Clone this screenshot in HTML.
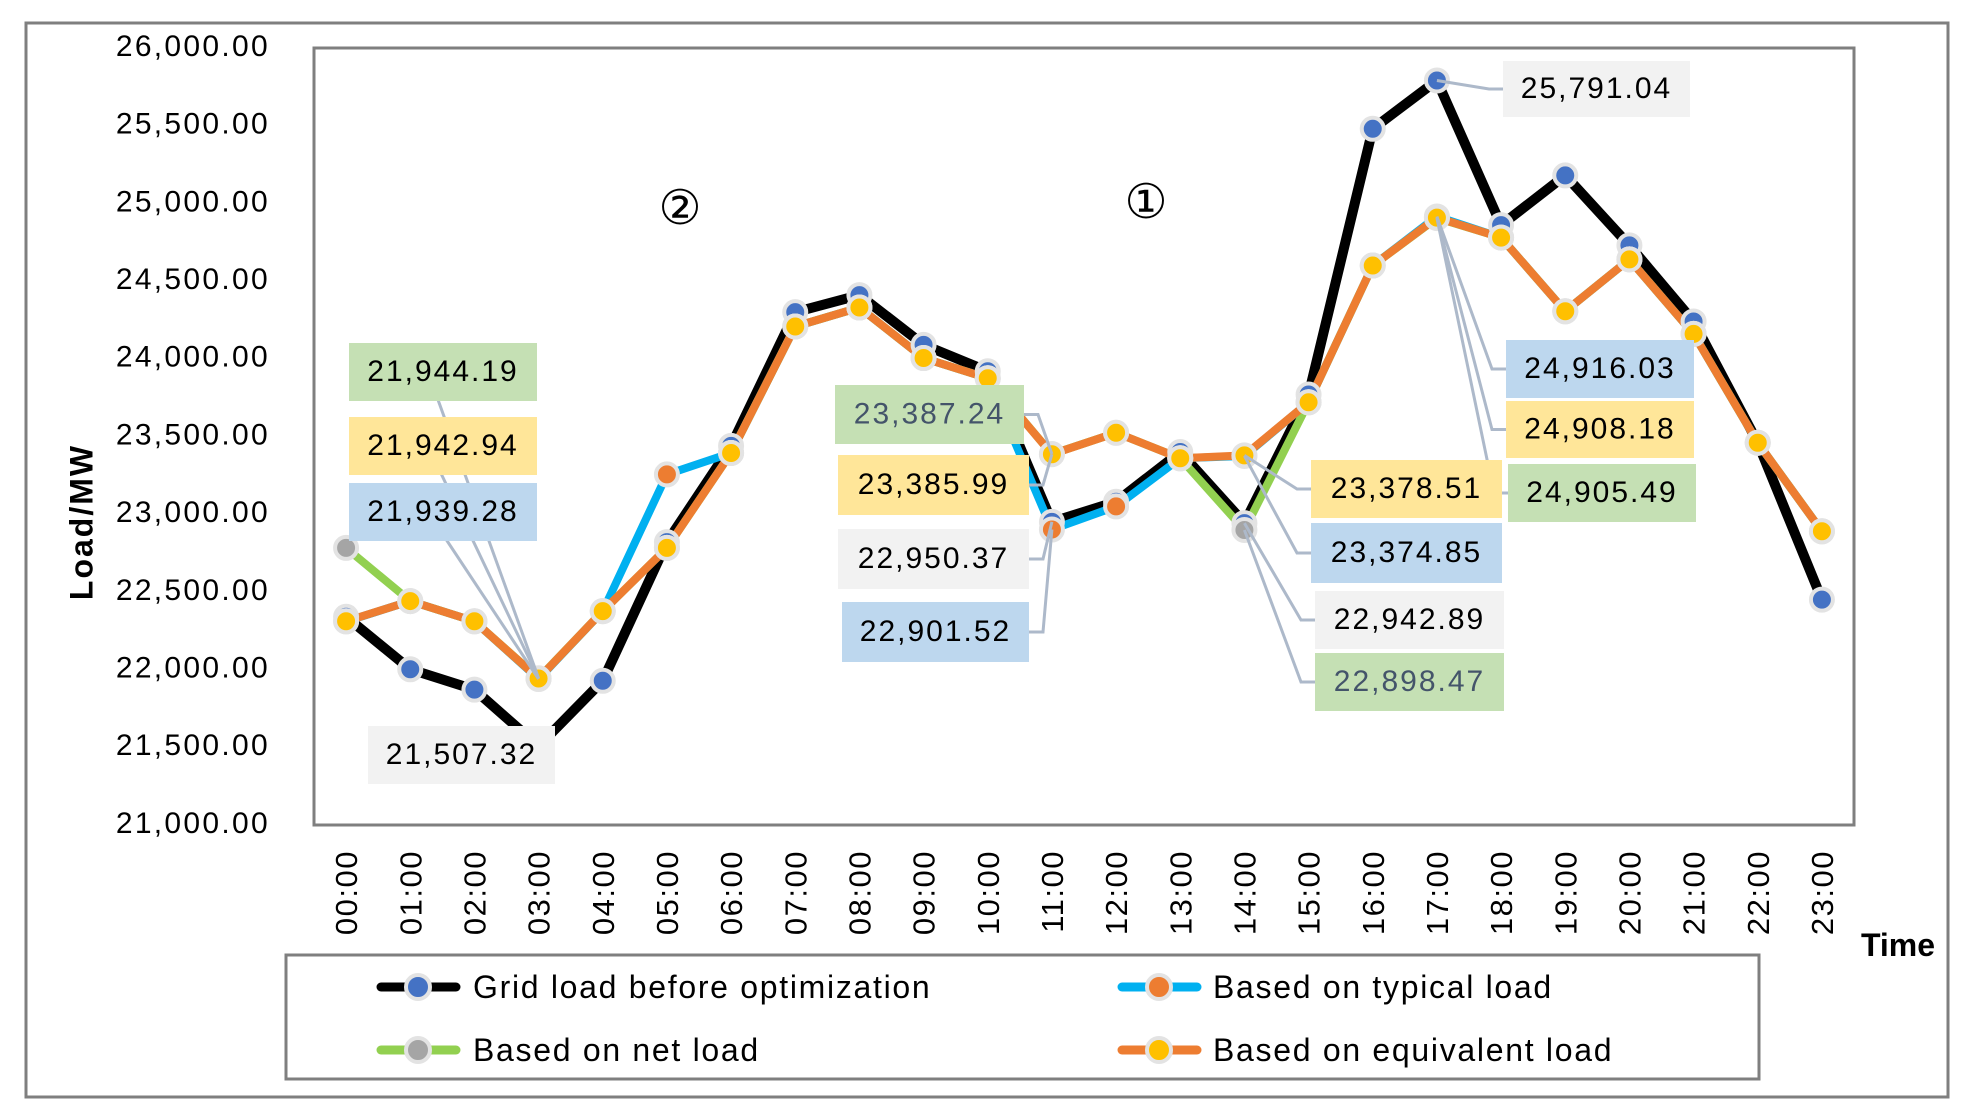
<!DOCTYPE html>
<html><head><meta charset="utf-8"><style>
html,body{margin:0;padding:0;background:#fff;}
svg{display:block;font-family:"Liberation Sans","DejaVu Sans",sans-serif;}
</style></head><body>
<svg id="chart" width="1982" height="1118" viewBox="0 0 1982 1118">
<rect x="26" y="23" width="1922" height="1074" fill="#fff" stroke="#7f7f7f" stroke-width="3"/>
<rect x="314" y="48" width="1540" height="777" fill="#fff" stroke="#7f7f7f" stroke-width="3"/>
<g id="yticks"></g>
<g id="xticks"></g>
<text x="84" y="522" transform="rotate(-90 84 522)" text-anchor="middle" dominant-baseline="middle" font-size="32" font-weight="bold" letter-spacing="2">Load/MW</text>
<text x="1898" y="956" text-anchor="middle" font-size="32" font-weight="bold">Time</text>
<text x="1146" y="218" text-anchor="middle" font-size="48" font-weight="normal">①</text>
<text x="680" y="224" text-anchor="middle" font-size="48">②</text>
<g id="series"></g>
<g id="labels"></g>
<g>
<rect x="286" y="955" width="1473" height="124" fill="#fff" stroke="#7f7f7f" stroke-width="3"/>
<g>
<line x1="381" y1="987" x2="456" y2="987" stroke="#000" stroke-width="9" stroke-linecap="round"/>
<circle cx="418" cy="987" r="12" fill="#4472C4" stroke="#e3e3e3" stroke-width="4"/>
<text x="473" y="998" font-size="32" letter-spacing="1.7">Grid load before optimization</text></g>
<g>
<line x1="1122" y1="987" x2="1197" y2="987" stroke="#00B0F0" stroke-width="9" stroke-linecap="round"/>
<circle cx="1159" cy="987" r="12" fill="#ED7D31" stroke="#e3e3e3" stroke-width="4"/>
<text x="1213" y="998" font-size="32" letter-spacing="1.7">Based on typical load</text></g>
<g>
<line x1="381" y1="1050" x2="456" y2="1050" stroke="#92D050" stroke-width="9" stroke-linecap="round"/>
<circle cx="418" cy="1050" r="12" fill="#A5A5A5" stroke="#e3e3e3" stroke-width="4"/>
<text x="473" y="1061" font-size="32" letter-spacing="1.7">Based on net load</text></g>
<g>
<line x1="1122" y1="1050" x2="1197" y2="1050" stroke="#ED7D31" stroke-width="9" stroke-linecap="round"/>
<circle cx="1159" cy="1050" r="12" fill="#FFC000" stroke="#e3e3e3" stroke-width="4"/>
<text x="1213" y="1061" font-size="32" letter-spacing="1.7">Based on equivalent load</text></g>
</g>
</svg>
<script>
const categories = ["00:00","01:00","02:00","03:00","04:00","05:00","06:00","07:00","08:00","09:00","10:00","11:00","12:00","13:00","14:00","15:00","16:00","17:00","18:00","19:00","20:00","21:00","22:00","23:00"];
const yTicks = [21000,21500,22000,22500,23000,23500,24000,24500,25000,25500,26000];
const gridLoad = [22340,22002,21871,21507.32,21928,22820,23440,24300,24410,24090,23920,22950.37,23080,23400,22942.89,23770,25480,25791.04,24860,25180,24730,24240,23460,22450];
const typicalLoad = [22310,22441,22311,21939.28,22376,23256,23394,24208,24330,24005,23875,22901.52,23050,23360,23374.85,23720,24600,24916.03,24780,24306,24640,24160,23460,22890];
const netLoad = [22783,22441,22311,21944.19,22376,22783,23394,24208,24330,24005,23875,23387.24,23524,23360,22898.47,23720,24600,24905.49,24780,24306,24640,24160,23460,22890];
const equivLoad = [22311,22441,22311,21942.94,22376,22783,23394,24208,24330,24005,23875,23385.99,23524,23360,23378.51,23720,24600,24908.18,24780,24306,24640,24160,23460,22890];

const NS="http://www.w3.org/2000/svg";
const PX=314, PW=1540, PY=48, PH=777, YMIN=21000, YMAX=26000;
function xPos(i){return PX+PW/categories.length*(i+0.5);}
function yPos(v){return PY+PH*(YMAX-v)/(YMAX-YMIN);}
function mk(tag,attrs,parent){const e=document.createElementNS(NS,tag);for(const k in attrs)e.setAttribute(k,attrs[k]);parent.appendChild(e);return e;}
const fmt=v=>v.toLocaleString("en-US",{minimumFractionDigits:2,maximumFractionDigits:2});

const yg=document.getElementById("yticks");
yTicks.forEach(t=>{const e=mk("text",{x:270,y:yPos(t),"text-anchor":"end","dominant-baseline":"middle","font-size":30,"letter-spacing":2.3},yg);e.textContent=fmt(t);

});
const xg=document.getElementById("xticks");
categories.forEach((c,i)=>{const x=xPos(i)+11,y=850;const e=mk("text",{x:x,y:y,transform:`rotate(-90 ${x} ${y})`,"text-anchor":"end","font-size":31,"letter-spacing":1.5},xg);e.textContent=c;

});

const sg=document.getElementById("series");
const series=[
 {name:"grid-load",data:gridLoad,line:"#000",w:10,dot:"#4472C4"},
 {name:"typical-load",data:typicalLoad,line:"#00B0F0",w:8,dot:"#ED7D31"},
 {name:"net-load",data:netLoad,line:"#92D050",w:8,dot:"#A5A5A5"},
 {name:"equivalent-load",data:equivLoad,line:"#ED7D31",w:8,dot:"#FFC000"}];
series.forEach(s=>{const p=mk("polyline",{points:s.data.map((v,i)=>xPos(i)+","+yPos(v)).join(" "),fill:"none",stroke:s.line,"stroke-width":s.w,"stroke-linejoin":"round"},sg);

});
series.forEach(s=>{s.data.forEach((v,i)=>{const c=mk("circle",{cx:xPos(i),cy:yPos(v),r:11,fill:s.dot,stroke:"#e3e3e3","stroke-width":4},sg);

});});

const lg=document.getElementById("labels");
// mode: 'c' = leader to box centre (behind box), 'e' = elbow to edge, 'n' = none
const boxes=[
 [netLoad,3,349,343,188,58,"#C5E0B4","#000","c"],
 [equivLoad,3,349,417,188,58,"#FFE699","#000","c"],
 [typicalLoad,3,349,483,188,58,"#BDD7EE","#000","c"],
 [gridLoad,3,368,726,187,58,"#F2F2F2","#000","n"],
 [netLoad,11,835,385,189,59,"#C5E0B4","#44546A","e"],
 [equivLoad,11,838,455,191,60,"#FFE699","#000","e"],
 [gridLoad,11,838,529,191,60,"#F2F2F2","#000","e"],
 [typicalLoad,11,842,602,187,60,"#BDD7EE","#000","e"],
 [gridLoad,17,1503,61,187,56,"#F2F2F2","#000","e"],
 [typicalLoad,17,1506,340,188,58,"#BDD7EE","#000","e"],
 [equivLoad,17,1506,401,188,57,"#FFE699","#000","e"],
 [netLoad,17,1508,464,188,58,"#C5E0B4","#000","e"],
 [equivLoad,14,1311,460,191,58,"#FFE699","#000","e"],
 [typicalLoad,14,1311,523,191,60,"#BDD7EE","#000","e"],
 [gridLoad,14,1315,591,189,58,"#F2F2F2","#000","e"],
 [netLoad,14,1315,653,189,58,"#C5E0B4","#44546A","e"]];
boxes.forEach(b=>{const [arr,i,x,y,w,h,bg,fg,mode]=b;const px=xPos(i),py=yPos(arr[i]);
 if(mode!=="n"){
 let pts;
 if(mode==="c"){pts=`${px},${py} ${x+w*0.42},${y+h/2}`;}
 else{const ex = px<x ? x : x+w; const ey=y+h/2; pts=`${px},${py} ${ex+(px<x?-14:14)},${ey} ${ex},${ey}`;}
 const l=mk("polyline",{points:pts,fill:"none",stroke:"#ADB9CA","stroke-width":3},lg);
 
 }
});
boxes.forEach(b=>{const [arr,i,x,y,w,h,bg,fg]=b;
 const r=mk("rect",{x:x,y:y,width:w,height:h,fill:bg},lg);
 
 
 const t=mk("text",{x:x+w/2,y:y+h/2+1,"text-anchor":"middle","dominant-baseline":"middle","font-size":30,"letter-spacing":2,fill:fg},lg);
 t.textContent=fmt(arr[i]);
 
 });
</script>
</body></html>
